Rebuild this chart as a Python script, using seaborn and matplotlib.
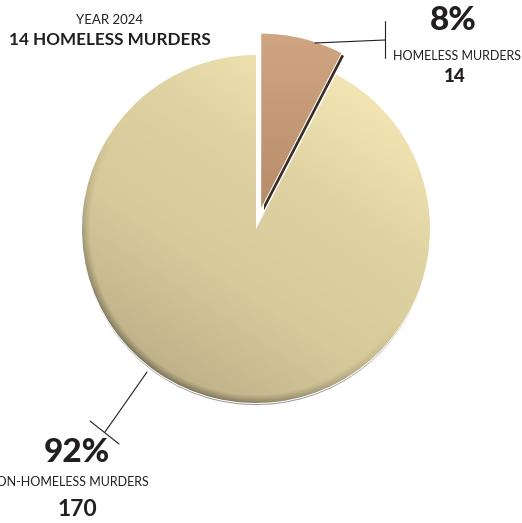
import numpy as np
import matplotlib
matplotlib.use("Agg")
import matplotlib.pyplot as plt
import matplotlib.patheffects as pe
import seaborn as sns

# data
labels = ["HOMELESS MURDERS", "NON-HOMELESS MURDERS"]
counts = [14, 170]
percents = ["8%", "92%"]
year = "YEAR 2024"

sns.set_theme(style="white")
plt.rcParams["font.family"] = ["Lato", "DejaVu Sans"]

W, H = 522, 523
fig = plt.figure(figsize=(W / 100, H / 100), dpi=100)
ax = fig.add_axes([0, 0, 1, 1])


def Y(py):
    # pixel row (from top) -> data y
    return H - py


cx, cy, R = 256, Y(229), 174
wedges, _ = ax.pie(counts, startangle=90, counterclock=False, radius=R,
                   center=(cx, cy), explode=[22, 0],
                   colors=["#c49a76", "#dacd9e"],
                   wedgeprops=dict(edgecolor="white", linewidth=1.5))
ax.set_aspect("auto")
ax.set_xlim(0, W)
ax.set_ylim(0, H)
ax.axis("off")

# drop shadows for a bit of depth
wedges[0].set_path_effects([pe.SimplePatchShadow(offset=(2, -2), shadow_rgbFace="#3a2e24", alpha=1.0), pe.Normal()])
wedges[1].set_path_effects([pe.SimplePatchShadow(offset=(0, -1.5), shadow_rgbFace="#555", alpha=0.6), pe.Normal()])

# gradient fills clipped to the wedges
xx, yy = np.meshgrid(np.linspace(0, W, W), np.linspace(0, H, H))
d = np.array([0.55, 0.83])
proj = ((xx - cx) * d[0] + (yy - cy) * d[1]) / R
t = np.clip((proj + 1) / 2, 0, 1)

big_cmap = sns.blend_palette(["#bfb28a", "#d6c99a", "#dfd2a2", "#f3e5b3"], as_cmap=True)
rgb = big_cmap(t)
r = np.hypot(xx - cx, yy - cy)
rim = np.clip((r - (R - 8)) / 8, 0, 1) * np.clip(-proj, 0, 1)
rgb[..., :3] *= (1 - 0.35 * rim)[..., None]
im = ax.imshow(rgb, extent=(0, W, 0, H), origin="lower", zorder=wedges[1].get_zorder() + 0.1)
im.set_clip_path(wedges[1])

small_cmap = sns.blend_palette(["#b68c69", "#c49a76", "#d0a682"], as_cmap=True)
ys = np.clip((yy - Y(205)) / 170, 0, 1)
im2 = ax.imshow(small_cmap(ys), extent=(0, W, 0, H), origin="lower", zorder=wedges[0].get_zorder() + 0.1)
im2.set_clip_path(wedges[0])

ink = "#231f20"

# title block
ax.text(110, Y(20), year, ha="center", va="center", fontsize=9.5, fontweight="normal", color=ink)
ax.text(110, Y(40), f"{counts[0]} {labels[0]}", ha="center", va="center", fontsize=12.3, fontweight="bold", color=ink)

# homeless callout
ax.plot([315, 385], [Y(43), Y(40)], color=ink, lw=0.8)
ax.plot([385, 385], [Y(21), Y(58)], color=ink, lw=0.8)
ax.text(453, Y(20), percents[0], ha="center", va="center", fontsize=24, fontweight="black", color=ink)
ax.text(457, Y(56), labels[0], ha="center", va="center", fontsize=9, fontweight="normal", color=ink)
ax.text(455, Y(76), str(counts[0]), ha="center", va="center", fontsize=13.5, fontweight="black", color=ink)

# non-homeless callout
ax.plot([147, 105], [Y(372), Y(432)], color=ink, lw=0.8)
ax.plot([90, 119], [Y(421), Y(444)], color=ink, lw=0.8)
ax.text(77, Y(453), percents[1], ha="center", va="center", fontsize=24, fontweight="black", color=ink)
ax.text(149, Y(482.5), labels[1], ha="right", va="center", fontsize=9, fontweight="normal", color=ink)
ax.text(77, Y(510), str(counts[1]), ha="center", va="center", fontsize=16.5, fontweight="bold", color=ink)

fig.savefig("out.png", dpi=100)
